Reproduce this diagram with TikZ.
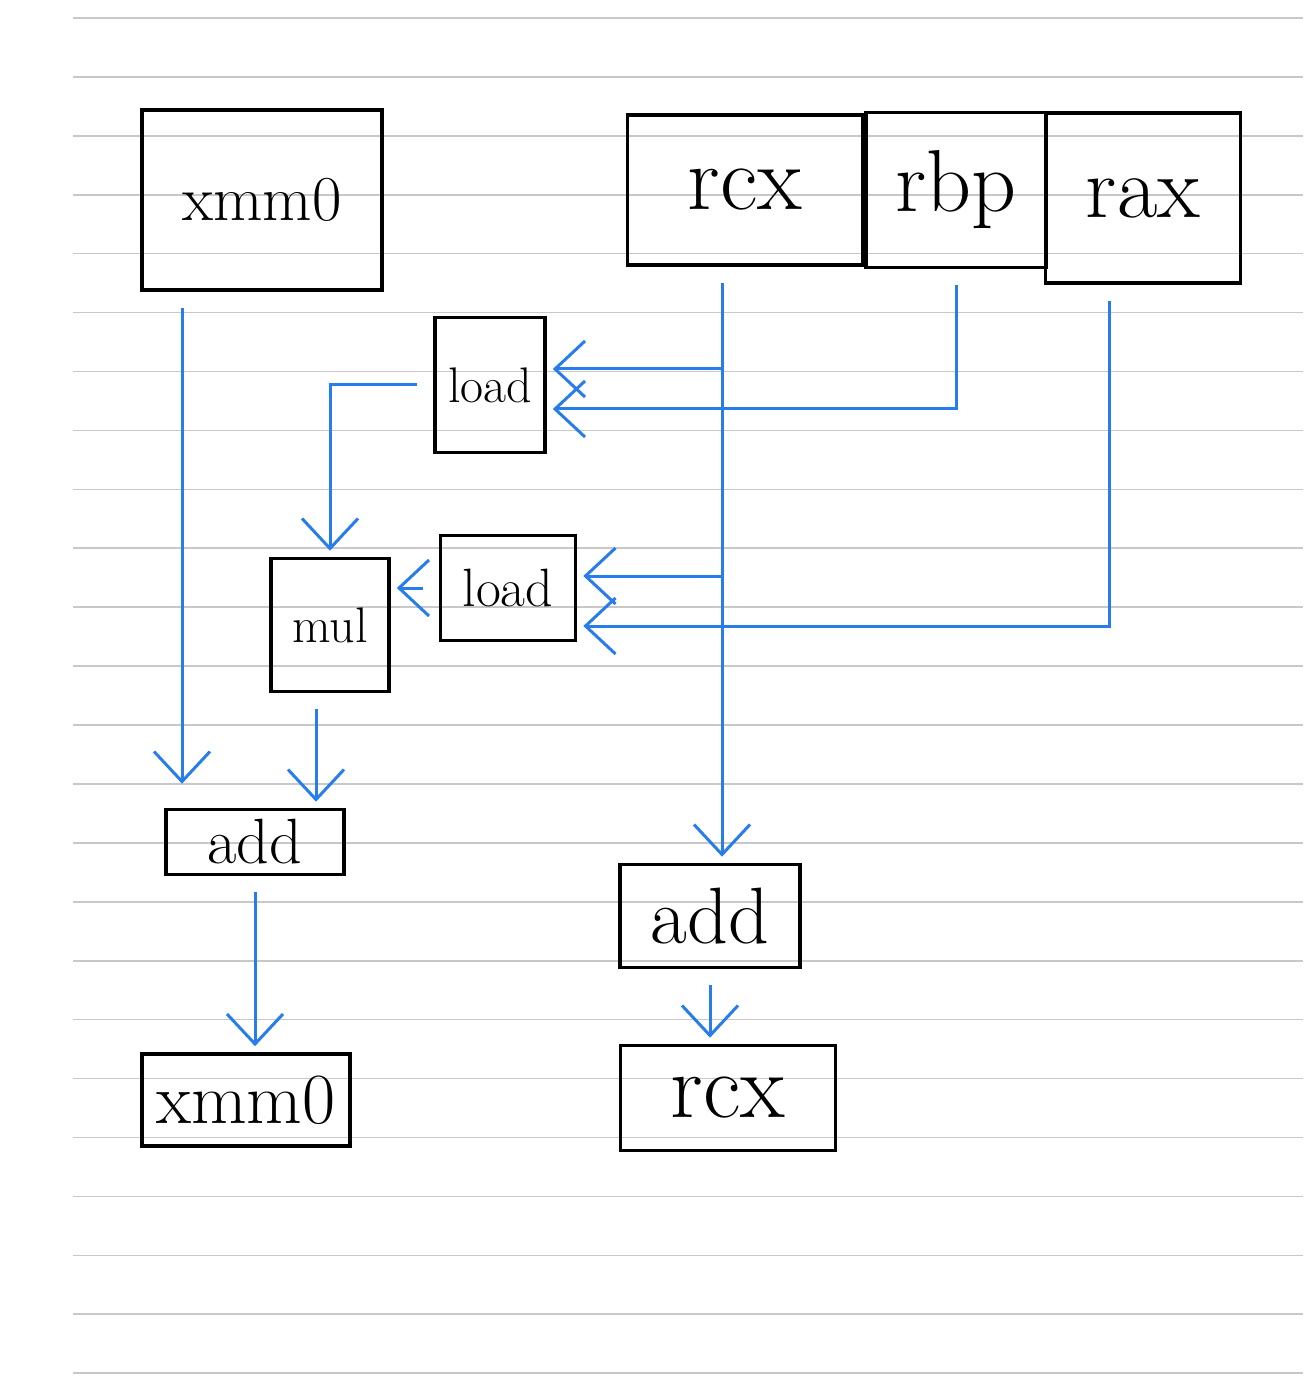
\documentclass[tikz,border=0pt]{standalone}
\usetikzlibrary{arrows.meta,calc}
\definecolor{pen}{RGB}{40,125,235}
\definecolor{rule}{RGB}{200,200,200}
\begin{document}
\begin{tikzpicture}[x=0.5pt,y=-0.5pt,
  bx/.style args={#1/#2}{draw=black, line width=1.8pt, inner sep=0pt,
     minimum width=#1, minimum height=#2},
  fsz/.style={font=\fontsize{#1}{#1}\selectfont},
  arr/.style={draw=pen, line width=1.5pt,
     -{Straight Barb[length=15pt,width=28pt,line width=1.5pt]},
     shorten <=8pt, shorten >=3pt},
  ln/.style={draw=pen, line width=1.5pt, shorten <=8pt}]
\fill[white] (0,0) rectangle (1303,1379);
\useasboundingbox (0,0) rectangle (1303,1379);
\foreach \i in {0,...,23} \draw[rule, line width=0.8pt] (73,18+58.92*\i) -- (1303,18+58.92*\i);

% nodes
\node[bx=120pt/90pt, fsz=32pt] (x0t) at (262,200) {xmm0};
\node[bx=117.5pt/75pt, fsz=46pt] (rcxt) at (745,190) {rcx};
\node[bx=90pt/77.5pt, fsz=44pt] (rbpt) at (956,190) {rbp};
\node[bx=97.5pt/85pt, fsz=44pt] (raxt) at (1143,198) {rax};
\node[bx=55pt/67.5pt, fsz=25pt] (ld1) at (490,385) {load};
\node[bx=67.5pt/52.5pt, fsz=27pt] (ld2) at (508,588) {load};
\node[bx=59pt/66.5pt, fsz=25pt] (mul) at (330,625) {mul};
\node[bx=89pt/32.5pt, fsz=32pt] (add1) at (255,842) {add};
\node[bx=90pt/51.5pt, fsz=40pt] (add2) at (710,916) {add};
\node[bx=104pt/46pt, fsz=36pt] (x0b) at (246,1100) {xmm0};
\node[bx=107.5pt/52.5pt, fsz=46pt] (rcxb) at (728,1098) {rcx};

% helper coordinates
\coordinate (rv) at (722,0);
\coordinate (p1) at ([yshift=8pt]ld1.east);
\coordinate (p2) at ([yshift=-12pt]ld1.east);
\coordinate (p3) at ([yshift=6pt]ld2.east);
\coordinate (p4) at ([yshift=-19pt]ld2.east);
\coordinate (s1) at ([xshift=-40pt]x0t.south);
\coordinate (s2) at ([xshift=-7pt]mul.south);
\coordinate (s3) at ([xshift=-17pt]raxt.south);

% connectors
\draw[arr, shorten >=12pt] (s1) -- (s1 |- add1.north);
\draw[arr] (s2) -- (s2 |- add1.north);
\draw[arr] (add1.south) -- (add1.south |- x0b.north);
\draw[arr] (rv |- rcxt.south) -- (rv |- add2.north);
\draw[arr] (add2.south) -- (add2.south |- rcxb.north);
\draw[arr] (ld1.west) -| (mul.north);
\draw[arr] (ld2.west) -- (ld2.west -| mul.east);
\draw[arr, shorten <=0pt] (rv |- p1) -- (p1);
\draw[arr] (rbpt.south) |- (p2);
\draw[arr, shorten <=0pt] (rv |- p3) -- (p3);
\draw[arr] (s3) |- (p4);
\end{tikzpicture}
\end{document}
